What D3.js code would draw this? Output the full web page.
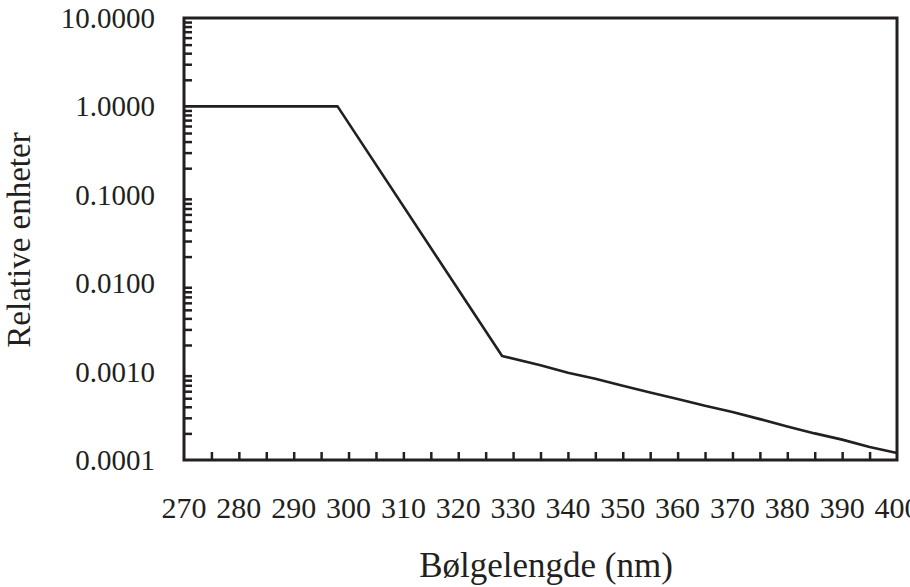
<!DOCTYPE html>
<html>
<head>
<meta charset="utf-8">
<script src="https://cdn.jsdelivr.net/npm/d3@7"></script>
<style>
  body { margin: 0; background: #fff; overflow: hidden; }
  text { font-family: "Liberation Serif", "Times New Roman", serif; fill: #231f20; }
</style>
</head>
<body>
<script>
// wavelength (nm) and relative response
const wavelengths = [270, 298, 328, 335, 340, 345, 350, 355, 360, 365, 370, 375, 380, 385, 390, 395, 400];
const relValues   = [1.0, 1.0, 0.00150, 0.00118, 0.00097, 0.00083, 0.00069, 0.00058, 0.00049, 0.00041, 0.00035, 0.00029, 0.00024, 0.00020, 0.00017, 0.00014, 0.00012];

const xTickLabels = [270, 280, 290, 300, 310, 320, 330, 340, 350, 360, 370, 380, 390, 400];
const yTickLabels = [0.0001, 0.001, 0.01, 0.1, 1, 10];

const xLabel = "Bølgelengde (nm)";
const yLabel = "Relative enheter";

const width = 910, height = 587;
const margin = {top: 18, right: 13, bottom: 127, left: 184};
const ink = "#231f20";

const svg = d3.select("body").append("svg")
    .attr("width", width)
    .attr("height", height);

const x = d3.scaleLinear()
    .domain([270, 400])
    .range([margin.left, width - margin.right]);

const y = d3.scaleLog()
    .domain([0.0001, 10])
    .range([height - margin.bottom, margin.top]);

const data = wavelengths.map((w, i) => ({w: w, v: relValues[i]}));

// minor ticks on the log axis: 2..9 of every decade
const yMinor = [];
yTickLabels.slice(0, -1).forEach(d => {
    for (let k = 2; k <= 9; k++) yMinor.push(d * k);
});

// x ticks every 5 nm, pointing inward
const xMinor = d3.range(275, 400, 5);

svg.append("g")
    .attr("transform", `translate(0,${height - margin.bottom})`)
    .call(d3.axisTop(x).tickValues(xMinor).tickSize(8).tickFormat(""))
    .call(g => g.select(".domain").remove())
    .call(g => g.selectAll("line").attr("stroke", ink).attr("stroke-width", 2.5));

svg.append("g")
    .attr("transform", `translate(${margin.left},0)`)
    .call(d3.axisRight(y).tickValues(yMinor).tickSize(8).tickFormat(""))
    .call(g => g.select(".domain").remove())
    .call(g => g.selectAll("line").attr("stroke", ink).attr("stroke-width", 2.5));

// the curve
const line = d3.line()
    .x(d => x(d.w))
    .y(d => y(d.v));

svg.append("path")
    .datum(data)
    .attr("fill", "none")
    .attr("stroke", ink)
    .attr("stroke-width", 2.6)
    .attr("stroke-linejoin", "round")
    .attr("d", line);

// frame
svg.append("rect")
    .attr("x", margin.left)
    .attr("y", margin.top)
    .attr("width", width - margin.right - margin.left)
    .attr("height", height - margin.bottom - margin.top)
    .attr("fill", "none")
    .attr("stroke", ink)
    .attr("stroke-width", 3);

// tick labels
svg.append("g")
    .selectAll("text")
    .data(xTickLabels)
    .join("text")
    .attr("x", d => x(d))
    .attr("y", 518)
    .attr("text-anchor", "middle")
    .style("font-size", "30px")
    .text(d => d);

svg.append("g")
    .selectAll("text")
    .data(yTickLabels)
    .join("text")
    .attr("x", 155)
    .attr("y", d => y(d) + 10)
    .attr("text-anchor", "end")
    .style("font-size", "29px")
    .text(d => d3.format(".4f")(d));

// axis titles
svg.append("text")
    .attr("x", 546)
    .attr("y", 577)
    .attr("text-anchor", "middle")
    .style("font-size", "35px")
    .text(xLabel);

svg.append("text")
    .attr("transform", "translate(30,240) rotate(-90)")
    .attr("text-anchor", "middle")
    .style("font-size", "33px")
    .text(yLabel);
</script>
</body>
</html>
